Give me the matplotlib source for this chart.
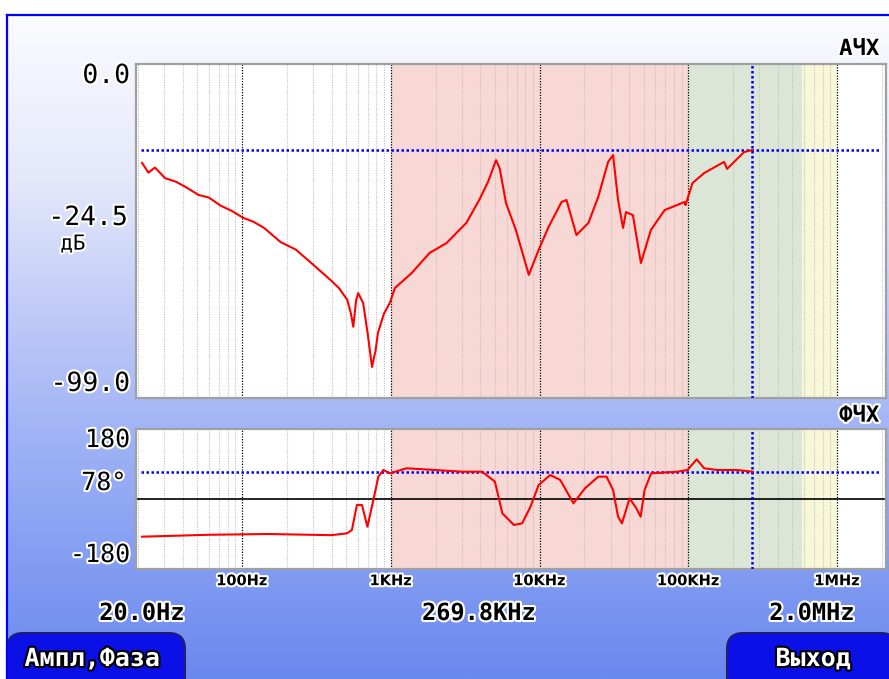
import numpy as np
import matplotlib
matplotlib.use("Agg")
import matplotlib.pyplot as plt
from matplotlib.patches import FancyBboxPatch
from matplotlib.colors import LinearSegmentedColormap
import matplotlib.patheffects as pe

# ---------------- data ----------------
amp_freq = [21.3, 23.5, 26, 28.5, 30.3, 36, 42, 51, 60, 72, 85, 102, 120, 141, 182, 230,
            303, 393, 450, 510, 540, 560, 585, 604, 652, 700, 748, 790, 820, 900, 986,
            1066, 1380, 1824, 2366, 3220, 3930, 4500, 5100, 5400, 5950, 6930, 8470, 9860,
            11500, 14060, 15170, 17700, 21300, 24800, 28900, 31200, 33700, 36400, 38100,
            42400, 48000, 56000, 69300, 94200, 95700, 106600, 128000, 174000, 182000,
            237000, 269800]
amp_db = [-29.3, -32.2, -30.7, -32.5, -33.8, -34.9, -36.5, -38.8, -39.6, -42.0, -43.5,
          -45.6, -46.8, -48.6, -52.8, -55.0, -59.6, -64.0, -66.5, -69.9, -74.0, -77.9,
          -70.0, -67.9, -70.8, -80.0, -89.8, -85.0, -79.7, -74.0, -70.8, -66.4, -62.0,
          -56.0, -53.1, -47.1, -40.3, -35.0, -28.5, -31.0, -41.2, -49.2, -62.5, -55.1,
          -48.3, -40.9, -40.3, -50.7, -47.1, -39.4, -29.0, -27.0, -40.3, -48.6, -43.9,
          -44.8, -59.0, -49.2, -43.3, -40.9, -41.8, -35.3, -32.3, -29.0, -31.1, -26.1,
          -25.5]

ph_freq = [21.3, 60, 150, 400, 508, 548, 592, 640, 697, 764, 825, 891, 986, 1276, 3041,
           4110, 5000, 5200, 5620, 6730, 7640, 8690, 9860, 11800, 13770, 16900, 20200,
           24800, 28200, 31200, 33700, 35800, 40300, 44700, 47800, 50800, 56200, 84700,
           98600, 113800, 127600, 156400, 212800, 269800]
ph_deg = [-96.9, -92.0, -90.0, -93.0, -88.2, -79.7, -15.4, -15.4, -71.2, -2.6, 57.4, 74.6,
          66.0, 79.0, 70.2, 70.2, 45.0, 18.8, -36.8, -66.8, -62.5, -19.8, 36.0, 61.7, 49.0,
          -11.0, 27.5, 57.4, 57.4, 23.2, -45.5, -62.5, 1.8, -23.9, -45.5, 23.2, 66.0, 70.2,
          74.6, 102.0, 79.0, 74.6, 74.6, 70.2]

x_ticks = [100, 1e3, 1e4, 1e5, 1e6]
x_tick_labels = ["100Hz", "1KHz", "10KHz", "100KHz", "1MHz"]
f_start, f_cursor, f_stop = 20.0, 269.8e3, 2.0e6
amp_cursor = -25.5
ph_cursor = 70.0
bands = [(1e3, 1e5, "#f7d8d4"), (1e5, 5.8e5, "#dce6d6"), (5.8e5, 1e6, "#f8f7d8")]

# ---------------- figure ----------------
W, H = 889, 679
fig = plt.figure(figsize=(W / 100, H / 100), dpi=100)
fig.patch.set_facecolor("white")

bg = fig.add_axes([7 / W, 0, 1 - 7 / W, 1 - 15 / H])
bg.set_axis_off()
cmap = LinearSegmentedColormap.from_list(
    "bgc", [(0.0, "#6a89ee"), (0.35, "#9db1f5"), (0.55, "#bfcaf7"), (0.75, "#e4e8fb"),
            (1.0, "#fbfbfe")])
grad = np.linspace(0, 1, 256).reshape(-1, 1)
bg.imshow(grad, aspect="auto", cmap=cmap, origin="lower", extent=[0, 1, 0, 1])
bg.set_xlim(0, 1)
bg.set_ylim(0, 1)
fig.add_artist(plt.Line2D([7 / W, 1], [1 - 15 / H, 1 - 15 / H], color="#0000ff", lw=1.6,
                          transform=fig.transFigure))
fig.add_artist(plt.Line2D([7 / W, 7 / W], [0, 1 - 15 / H], color="#0000ff", lw=1.6,
                          transform=fig.transFigure))

ax_l, ax_w = 136 / W, 750 / W
ax1 = fig.add_axes([ax_l, 1 - 398 / H, ax_w, 334 / H])
ax2 = fig.add_axes([ax_l, 1 - 569 / H, ax_w, 140 / H])

halo = [pe.withStroke(linewidth=3, foreground="white")]
mono = ["DejaVu Sans Mono"]


def style_axes(ax, ylim):
    ax.set_xscale("log")
    ax.set_xlim(19.4, 2.13e6)
    ax.set_ylim(*ylim)
    ax.set_facecolor("white")
    for s in ax.spines.values():
        s.set_color("#a0a0a0")
        s.set_linewidth(1.6)
    for lo, hi, c in bands:
        ax.axvspan(lo, hi, color=c, lw=0, zorder=0)
    for dec in [10, 100, 1e3, 1e4, 1e5, 1e6]:
        for m in range(2, 10):
            f = dec * m
            if 19.4 < f < 2.13e6:
                ax.axvline(f, color="#c0c0c0", lw=0.8, ls=(0, (1, 1.2)), zorder=1)
    for f in x_ticks:
        ax.axvline(f, color="black", lw=0.9, ls=(0, (1, 1.2)), zorder=1)
    ax.axvline(f_cursor, color="#0000ff", lw=1.8, ls=(0, (1, 1)), zorder=3)
    ax.set_yticks([])
    ax.tick_params(axis="x", which="both", length=0)


style_axes(ax1, (-99, 0))
style_axes(ax2, (-180, 180))
ax1.set_xticks([])
ax1.set_xticks([], minor=True)
ax2.set_xticks(x_ticks)
ax2.set_xticklabels(x_tick_labels)
ax2.set_xticks([], minor=True)
for t in ax2.get_xticklabels():
    t.set_fontfamily(["Liberation Sans Narrow", "DejaVu Sans"])
    t.set_fontweight("bold")
    t.set_fontsize(10.5)
    t.set_path_effects(halo)
ax2.tick_params(axis="x", pad=3)

ax1.axhline(amp_cursor, xmin=0.006, xmax=0.992, color="#0000ff", lw=1.8, ls=(0, (1, 1)), zorder=3)
ax2.axhline(ph_cursor, xmin=0.006, xmax=0.992, color="#0000ff", lw=1.8, ls=(0, (1, 1)), zorder=3)
ax2.axhline(0, color="black", lw=1.2, zorder=2)

ax1.plot(amp_freq, amp_db, color="#ff0000", lw=1.5, zorder=4)
ax2.plot(ph_freq, ph_deg, color="#ff0000", lw=1.5, zorder=4)

# y labels
lab = dict(family=mono, fontsize=19, color="black", path_effects=halo)
ax1.text(-0.008, 0.964, "0.0", transform=ax1.transAxes, ha="right", va="center", **lab)
ax1.text(-0.011, 0.539, "-24.5", transform=ax1.transAxes, ha="right", va="center", **lab)
ax1.text(-0.084, 0.462, "дБ", transform=ax1.transAxes, ha="center", va="center",
         family=mono, fontsize=15, color="black", path_effects=halo)
ax1.text(-0.008, 0.042, "-99.0", transform=ax1.transAxes, ha="right", va="center", **lab)
ax1.text(0.991, 1.045, "АЧХ", transform=ax1.transAxes, ha="right", va="center",
         family=mono, fontsize=16, fontweight="bold", color="black", path_effects=halo)

lab2 = dict(family=mono, fontsize=18, color="black", path_effects=halo)
ax2.text(-0.008, 0.921, "180", transform=ax2.transAxes, ha="right", va="center", **lab2)
ax2.text(-0.013, 0.614, "78°", transform=ax2.transAxes, ha="right", va="center", **lab2)
ax2.text(-0.008, 0.10, "-180", transform=ax2.transAxes, ha="right", va="center", **lab2)
ax2.text(0.991, 1.095, "ФЧХ", transform=ax2.transAxes, ha="right", va="center",
         family=mono, fontsize=16, fontweight="bold", color="black", path_effects=halo)

# frequency readouts
ro = dict(family=mono, fontsize=17, fontweight="bold", color="black", path_effects=halo,
          va="center", ha="center")
fig.text(142 / W, 1 - 613 / H, "%.1fHz" % f_start, **ro)
fig.text(479 / W, 1 - 613 / H, "%.1fKHz" % (f_cursor / 1e3), **ro)
fig.text(812 / W, 1 - 613 / H, "%.1fMHz" % (f_stop / 1e6), **ro)

# buttons
btn_style = dict(boxstyle="round,pad=0,rounding_size=0.018", fc="#0a10e6", ec="#202070",
                 lw=1.5, transform=fig.transFigure, mutation_aspect=W / H)
fig.add_artist(FancyBboxPatch((7 / W, -0.03), 178 / W, (679 - 633) / H + 0.03, **btn_style))
fig.add_artist(FancyBboxPatch((727 / W, -0.03), 170 / W, (679 - 633) / H + 0.03, **btn_style))
bt = dict(family=mono, fontsize=18, fontweight="bold", color="white",
          path_effects=[pe.withStroke(linewidth=3, foreground="black")], va="center", ha="center")
fig.text(92 / W, 1 - 659 / H, "Ампл,Фаза", **bt)
fig.text(813 / W, 1 - 659 / H, "Выход", **bt)

fig.savefig("out.png", dpi=100)
